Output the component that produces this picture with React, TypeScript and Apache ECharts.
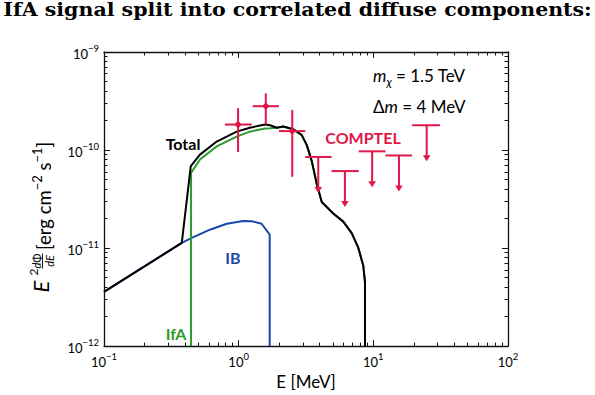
import React, { useEffect, useRef } from "react";
import * as echarts from "echarts";

// ---- data ----
const xTicks = [0.1, 1, 10, 100];
const yTicks = [1e-12, 1e-11, 1e-10, 1e-9];

const totalE = [0.1, 0.378, 0.441, 0.516, 0.687, 0.966, 1.21, 1.57, 1.71, 1.92, 2.14, 2.55, 2.94, 3.2, 3.49, 3.8, 4.14, 5.04, 5.98, 6.91, 7.73, 8.42, 8.67, 8.67];
const totalV = [3.57e-12, 1.13e-11, 6.87e-11, 8.97e-11, 1.22e-10, 1.54e-10, 1.69e-10, 1.82e-10, 1.79e-10, 1.69e-10, 1.74e-10, 1.63e-10, 1.42e-10, 1.13e-10, 7.71e-11, 4.5e-11, 2.95e-11, 2.25e-11, 1.86e-11, 1.42e-11, 1.01e-11, 6.6e-12, 4.5e-12, 1e-12];

const ifaE = [0.443, 0.443, 0.516, 0.687, 0.966, 1.21, 1.57, 1.71, 1.92, 2.14, 2.55, 2.94, 3.2, 3.49, 3.8, 4.14, 5.04, 5.98, 6.91, 7.73, 8.42, 8.67, 8.67];
const ifaV = [1e-12, 5.85e-11, 8.0e-11, 1.09e-10, 1.37e-10, 1.54e-10, 1.66e-10, 1.67e-10, 1.69e-10, 1.74e-10, 1.63e-10, 1.42e-10, 1.13e-10, 7.71e-11, 4.5e-11, 2.95e-11, 2.25e-11, 1.86e-11, 1.42e-11, 1.01e-11, 6.6e-12, 4.5e-12, 1e-12];

const ibE = [0.1, 0.378, 0.448, 0.612, 0.815, 1.08, 1.25, 1.48, 1.7, 1.7];
const ibV = [3.57e-12, 1.13e-11, 1.27e-11, 1.54e-11, 1.77e-11, 1.89e-11, 1.88e-11, 1.77e-11, 1.37e-11, 1e-12];

// COMPTEL measured points
const compE = [0.99, 1.59, 2.5];
const compELo = [0.79, 1.27, 1.99];
const compEHi = [1.25, 1.99, 3.12];
const compV = [1.82e-10, 2.8e-10, 1.56e-10];
const compVLo = [9.55e-11, 1.82e-10, 5.33e-11];
const compVHi = [2.67e-10, 3.78e-10, 2.57e-10];

// COMPTEL upper limits
const ulE = [3.9, 6.15, 9.8, 15.5, 24.9];
const ulELo = [3.12, 4.9, 7.8, 12.3, 19.4];
const ulEHi = [4.9, 7.8, 12.3, 19.4, 31.2];
const ulV = [8.5e-11, 6.1e-11, 9.7e-11, 8.8e-11, 1.79e-10];

const RED = "#e0174a";
const GREEN = "#2f9a2f";
const BLUE = "#1a48a8";
const FONT = "Lato";

const minorOf = (decades: number[]) => {
  const out: number[] = [];
  decades.forEach((d) => {
    for (let k = 2; k <= 9; k++) out.push(Number((k * Math.pow(10, d)).toPrecision(3)));
  });
  return out;
};
const xMinor = minorOf([-1, 0, 1]);
const yMinor = minorOf([-12, -11, -10]);

const powLabel = (v: number) => {
  const e = Math.round(Math.log10(v));
  return `{b|10}{s|${e < 0 ? "\u2212" : ""}${Math.abs(e)}}`;
};
const labelRich = {
  b: { fontSize: 13, fontFamily: FONT, color: "#000", lineHeight: 17, verticalAlign: "bottom" },
  s: { fontSize: 9.5, fontFamily: FONT, color: "#000", lineHeight: 10, verticalAlign: "top" },
};

const makeAxis = (
  kind: "x" | "y",
  pos: string,
  ticks: number[],
  tickLen: number,
  showLabel: boolean,
  showLine: boolean
) => ({
  type: "log",
  logBase: 10,
  min: kind === "x" ? 0.1 : 1e-12,
  max: kind === "x" ? 100 : 1e-9,
  position: pos,
  axisLine: { show: showLine, onZero: false, lineStyle: { color: "#111", width: 1.3 } },
  axisTick: { show: true, inside: true, length: tickLen, customValues: ticks, lineStyle: { color: "#111", width: 1 } },
  minorTick: { show: false },
  splitLine: { show: false },
  axisLabel: {
    show: showLabel,
    customValues: ticks,
    formatter: powLabel,
    rich: labelRich,
    margin: 5,
  },
});

const tx = (text: string, x: number, y: number, font: string, fill: string, align = "center") => ({
  type: "text",
  x,
  y,
  style: { text, font, fill, align, textAlign: align, verticalAlign: "middle", textVerticalAlign: "middle" },
});

export default function App() {
  const ref = useRef<HTMLDivElement>(null);
  useEffect(() => {
    if (!ref.current) return;
    const chart = echarts.init(ref.current, undefined, { renderer: "svg" });
    const lineSeries = (name: string, xs: number[], ys: number[], color: string, z: number) => ({
      name,
      type: "line",
      data: xs.map((x, i) => [x, ys[i]]),
      showSymbol: false,
      symbol: "none",
      lineStyle: { color, width: 2 },
      z,
      clip: true,
    });
    const st = { stroke: RED, lineWidth: 2 };
    const option: any = {
      animation: false,
      backgroundColor: "#fff",
      grid: { left: 104, top: 52, right: 87, bottom: 43, containLabel: false },
      xAxis: [
        {
          ...makeAxis("x", "bottom", xTicks, 6, true, true),
          name: "E [MeV]",
          nameLocation: "middle",
          nameGap: 26,
          nameTextStyle: { fontSize: 17, fontFamily: FONT, color: "#000" },
        },
        makeAxis("x", "top", xTicks, 6, false, true),
        makeAxis("x", "bottom", xMinor, 3.5, false, false),
        makeAxis("x", "top", xMinor, 3.5, false, false),
      ],
      yAxis: [
        makeAxis("y", "left", yTicks, 6, true, true),
        makeAxis("y", "right", yTicks, 6, false, true),
        makeAxis("y", "left", yMinor, 3.5, false, false),
        makeAxis("y", "right", yMinor, 3.5, false, false),
      ],
      series: [
        lineSeries("IB", ibE, ibV, BLUE, 2),
        lineSeries("IfA", ifaE, ifaV, GREEN, 3),
        lineSeries("Total", totalE, totalV, "#000", 4),
        {
          type: "custom",
          name: "COMPTEL",
          z: 5,
          clip: false,
          encode: { x: [0, 2, 3], y: [1, 4, 5] },
          data: compE.map((e, i) => [e, compV[i], compELo[i], compEHi[i], compVLo[i], compVHi[i]]),
          renderItem: (_p: any, api: any) => {
            const e = api.value(0), v = api.value(1);
            const c = api.coord([e, v]);
            const l = api.coord([api.value(2), v]);
            const r = api.coord([api.value(3), v]);
            const b = api.coord([e, api.value(4)]);
            const t = api.coord([e, api.value(5)]);
            return {
              type: "group",
              children: [
                { type: "line", shape: { x1: l[0], y1: c[1], x2: r[0], y2: c[1] }, style: st },
                { type: "line", shape: { x1: c[0], y1: t[1], x2: c[0], y2: b[1] }, style: st },
                { type: "circle", shape: { cx: c[0], cy: c[1], r: 2.8 }, style: { fill: RED } },
              ],
            };
          },
        },
        {
          type: "custom",
          name: "COMPTEL UL",
          z: 5,
          clip: false,
          encode: { x: [0, 2, 3], y: 1 },
          data: ulE.map((e, i) => [e, ulV[i], ulELo[i], ulEHi[i]]),
          renderItem: (_p: any, api: any) => {
            const e = api.value(0), v = api.value(1);
            const c = api.coord([e, v]);
            const l = api.coord([api.value(2), v]);
            const r = api.coord([api.value(3), v]);
            const yEnd = c[1] + 36;
            return {
              type: "group",
              children: [
                { type: "line", shape: { x1: l[0], y1: c[1], x2: r[0], y2: c[1] }, style: st },
                { type: "line", shape: { x1: c[0], y1: c[1], x2: c[0], y2: yEnd - 5 }, style: st },
                {
                  type: "polygon",
                  shape: { points: [[c[0] - 3.8, yEnd - 6], [c[0] + 3.8, yEnd - 6], [c[0], yEnd]] },
                  style: { fill: RED },
                },
              ],
            };
          },
        },
      ],
      graphic: [
        {
          type: "text",
          x: 297.5,
          y: 10,
          scaleX: 1.14,
          style: {
            text: "IfA signal split into correlated diffuse components:",
            font: 'bold 18px "DejaVu Serif"',
            fill: "#000",
            align: "center",
            textAlign: "center",
            verticalAlign: "middle",
            textVerticalAlign: "middle",
          },
        },
        tx("Total", 183, 143, `bold 16px ${FONT}`, "#000"),
        tx("IB", 233, 257, `bold 16px ${FONT}`, BLUE),
        tx("IfA", 176, 333, `bold 16px ${FONT}`, GREEN),
        tx("COMPTEL", 363, 137, `bold 16px ${FONT}`, RED),
        {
          type: "text",
          x: 373,
          y: 77,
          style: {
            text: "{i|m}{sub|\u03c7}{n| = 1.5 TeV}",
            align: "left",
            textAlign: "left",
            verticalAlign: "middle",
            textVerticalAlign: "middle",
            rich: {
              i: { fontSize: 17, fontStyle: "italic", fontFamily: FONT, fill: "#000", lineHeight: 20, verticalAlign: "top" },
              sub: { fontSize: 12, fontStyle: "italic", fontFamily: FONT, fill: "#000", lineHeight: 12, verticalAlign: "bottom" },
              n: { fontSize: 17, fontFamily: FONT, fill: "#000", lineHeight: 20, verticalAlign: "top" },
            },
          },
        },
        {
          type: "text",
          x: 373,
          y: 106,
          style: {
            text: "{n|\u0394}{i|m}{n| = 4 MeV}",
            align: "left",
            textAlign: "left",
            verticalAlign: "middle",
            textVerticalAlign: "middle",
            rich: {
              i: { fontSize: 17, fontStyle: "italic", fontFamily: FONT, fill: "#000" },
              n: { fontSize: 17, fontFamily: FONT, fill: "#000" },
            },
          },
        },
        {
          type: "group",
          x: 44,
          y: 201.5,
          rotation: Math.PI / 2,
          children: [
            tx("E", -91, -4, `italic 22px ${FONT}`, "#000", "left"),
            tx("2", -74, -11, `12px ${FONT}`, "#000", "left"),
            {
              type: "text",
              x: -59.5,
              y: -7.5,
              style: {
                text: "{i|d}{n|\u03a6}",
                align: "center",
                textAlign: "center",
                verticalAlign: "middle",
                textVerticalAlign: "middle",
                rich: {
                  i: { fontSize: 11, fontStyle: "italic", fontFamily: FONT, fill: "#000" },
                  n: { fontSize: 11, fontFamily: FONT, fill: "#000" },
                },
              },
            },
            { type: "line", shape: { x1: -67, y1: -1.5, x2: -52, y2: -1.5 }, style: { stroke: "#000", lineWidth: 0.9 } },
            tx("dE", -59.5, 5, `italic 11px ${FONT}`, "#000"),
            {
              type: "text",
              x: -48.5,
              y: -2.5,
              style: {
                text: "{n|[erg cm}{s|\u22122}{n| s}{s|\u22121}{n|]}",
                align: "left",
                textAlign: "left",
                verticalAlign: "middle",
                textVerticalAlign: "middle",
                rich: {
                  n: { fontSize: 18.5, fontFamily: FONT, fill: "#000", lineHeight: 23, verticalAlign: "bottom" },
                  s: { fontSize: 13, fontFamily: FONT, fill: "#000", lineHeight: 13, verticalAlign: "top" },
                },
              },
            },
          ],
        },
      ],
    };
    chart.setOption(option);
    return () => chart.dispose();
  }, []);
  return (
    <div
      ref={ref}
      style={{ position: "absolute", left: 0, top: 0, width: 595, height: 395, background: "#fff" }}
    />
  );
}
